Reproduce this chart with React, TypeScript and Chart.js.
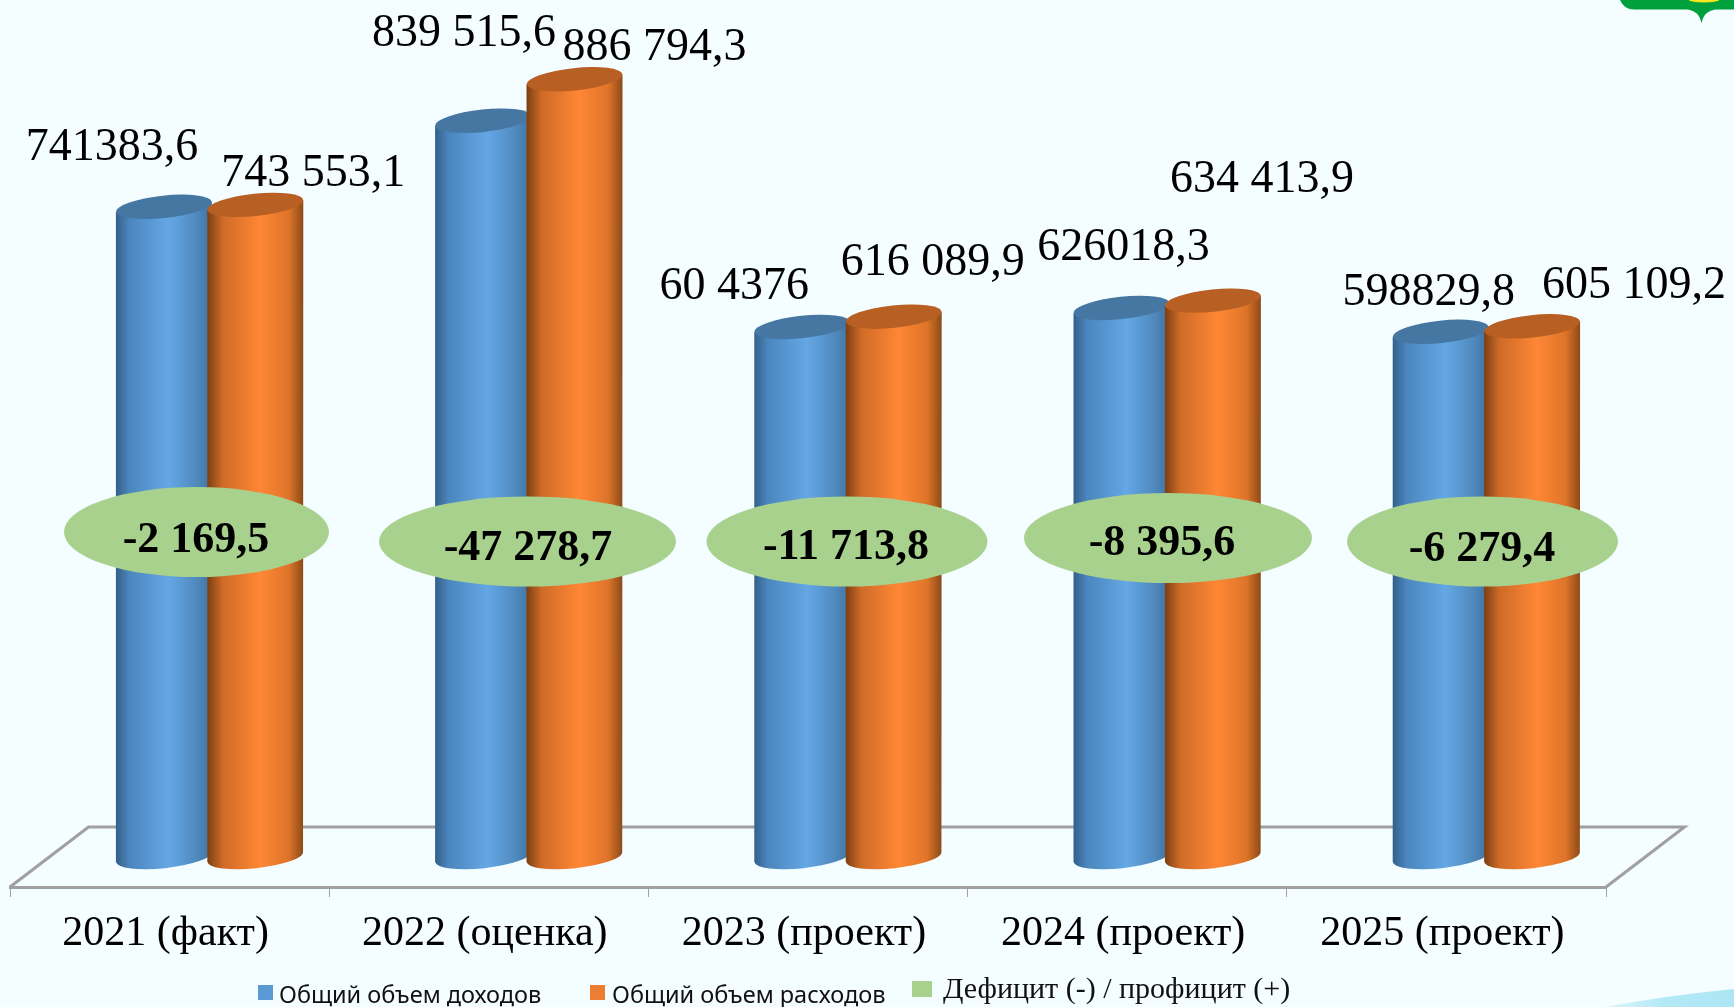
import React, { useEffect, useRef } from "react";
import { Chart, registerables } from "chart.js";

Chart.register(...registerables);

const categories = ["2021 (факт)", "2022 (оценка)", "2023 (проект)", "2024 (проект)", "2025 (проект)"];
const revenues = [741383.6, 839515.6, 604376, 626018.3, 598829.8];
const expenses = [743553.1, 886794.3, 616089.9, 634413.9, 605109.2];
const deficits = [-2169.5, -47278.7, -11713.8, -8395.6, -6279.4];
const revenueLabels = ["741383,6", "839 515,6", "60 4376", "626018,3", "598829,8"];
const expenseLabels = ["743 553,1", "886 794,3", "616 089,9", "634 413,9", "605 109,2"];
const deficitLabels = ["-2 169,5", "-47 278,7", "-11 713,8", "-8 395,6", "-6 279,4"];
const seriesNames = ["Общий объем доходов", "Общий объем расходов", "Дефицит (-) / профицит (+)"];

// Hand-placed annotations of the original slide, relative to the top of each bar
const revenueLabelOffsets = [[-52, -59], [-19, -87], [-68, -40], [2, -60], [-12, -39]];
const expenseLabelOffsets = [[58, -31], [80, -31], [39, -54], [49, -121], [102, -40]];
// Deficit ellipses: centre x, centre y, x radius, y radius
const badges = [
  [196.5, 532, 132.5, 45],
  [527.5, 541.5, 148.5, 45],
  [847, 541.5, 140.5, 45],
  [1168, 538, 144, 45],
  [1482.5, 541.5, 135.5, 45],
];
const badgeTextX = [196, 528, 846, 1162, 1482];
const badgeTextY = [541, 549, 548, 544, 550];

const SERIF = '"Liberation Serif", serif';
const BG = "#F4FDFF";
const DEPTH_X = 40;
const DEPTH_Y = 30;
const TILT = (-6 * Math.PI) / 180;
const CAP_RY = 11.2;

const blueStops: [number, string][] = [
  [0, "#33608A"], [0.14, "#4B86BD"], [0.55, "#64A7E5"], [0.85, "#4F88BC"], [1, "#41719E"],
];
const orangeStops: [number, string][] = [
  [0, "#7C3F12"], [0.16, "#CF6B28"], [0.55, "#FF8735"], [0.85, "#DE7429"], [1, "#8C4A18"],
];

function cylinders(ctx: CanvasRenderingContext2D, meta: any, stops: [number, string][], capColor: string) {
  meta.data.forEach((el: any) => {
    const { x, y, base, width } = el.getProps(["x", "y", "base", "width"], true);
    const rx = width / 2;
    const xL = x - rx;
    const xR = x + rx;
    const tip = rx * Math.sin(-TILT);
    const grad = ctx.createLinearGradient(xL, 0, xR, 0);
    stops.forEach(([o, c]) => grad.addColorStop(o, c));
    ctx.beginPath();
    ctx.moveTo(xL, y + tip);
    ctx.lineTo(xL, base + tip);
    ctx.ellipse(x, base, rx, CAP_RY, TILT, Math.PI, 0, true);
    ctx.lineTo(xR, y - tip);
    ctx.closePath();
    ctx.fillStyle = grad;
    ctx.fill();
    ctx.beginPath();
    ctx.ellipse(x, y, rx, CAP_RY, TILT, 0, Math.PI * 2);
    ctx.fillStyle = capColor;
    ctx.fill();
  });
}

const slidePlugin = {
  id: "slide",
  beforeDraw(chart: any) {
    const { ctx, width, height } = chart;
    ctx.save();
    ctx.fillStyle = BG;
    ctx.fillRect(0, 0, width, height);
    // swoosh bottom right
    const sw = ctx.createLinearGradient(1610, 0, width, 0);
    sw.addColorStop(0, "#D8F4FB");
    sw.addColorStop(0.45, "#B4E9F6");
    sw.addColorStop(1, "#ACE6F5");
    ctx.beginPath();
    ctx.moveTo(1605, height);
    ctx.quadraticCurveTo(1670, 995, width, 989);
    ctx.lineTo(width, height);
    ctx.closePath();
    ctx.fillStyle = sw;
    ctx.fill();
    // emblem at top right
    ctx.beginPath();
    ctx.moveTo(1620, 0);
    ctx.quadraticCurveTo(1624, 9.5, 1634, 9.5);
    ctx.lineTo(1688, 9.5);
    ctx.quadraticCurveTo(1699, 11, 1701.5, 23);
    ctx.quadraticCurveTo(1704, 11, 1715, 9.5);
    ctx.lineTo(width, 9.5);
    ctx.lineTo(width, 0);
    ctx.closePath();
    ctx.fillStyle = "#00A03C";
    ctx.fill();
    ctx.beginPath();
    ctx.ellipse(1704, 0, 15, 2.4, 0, 0, Math.PI * 2);
    ctx.fillStyle = "#F5E61E";
    ctx.fill();
    ctx.restore();
  },
  beforeDatasetsDraw(chart: any) {
    const { ctx, chartArea: a } = chart;
    const yFront = a.bottom;
    const yBack = yFront - DEPTH_Y * 2;
    ctx.save();
    ctx.strokeStyle = "#A0A0A0";
    ctx.lineWidth = 3;
    ctx.lineJoin = "miter";
    ctx.beginPath();
    ctx.moveTo(a.left, yFront);
    ctx.lineTo(a.left + DEPTH_X * 2 - 1.5, yBack);
    ctx.lineTo(a.right + DEPTH_X * 2 - 1.5, yBack);
    ctx.lineTo(a.right, yFront);
    ctx.stroke();
    ctx.restore();
  },
  beforeDatasetDraw() {
    return false;
  },
  afterDatasetsDraw(chart: any) {
    const { ctx } = chart;
    const revMeta = chart.getDatasetMeta(0);
    const expMeta = chart.getDatasetMeta(1);
    ctx.save();
    ctx.translate(DEPTH_X, -DEPTH_Y);
    cylinders(ctx, revMeta, blueStops, "#4677A3");
    cylinders(ctx, expMeta, orangeStops, "#B86023");
    ctx.restore();

    ctx.save();
    ctx.fillStyle = "#000";
    ctx.textAlign = "center";
    ctx.textBaseline = "middle";
    ctx.font = `46px ${SERIF}`;
    const label = (meta: any, texts: string[], offs: number[][]) =>
      meta.data.forEach((el: any, i: number) => {
        ctx.fillText(texts[i], el.x + DEPTH_X + offs[i][0], el.y - DEPTH_Y + offs[i][1]);
      });
    label(revMeta, revenueLabels, revenueLabelOffsets);
    label(expMeta, expenseLabels, expenseLabelOffsets);

    badges.forEach(([cx, cy, rx, ry], i) => {
      ctx.beginPath();
      ctx.ellipse(cx, cy, rx, ry, 0, 0, Math.PI * 2);
      ctx.fillStyle = chart.data.datasets[2].backgroundColor;
      ctx.fill();
      ctx.fillStyle = "#000";
      ctx.font = `bold 44px ${SERIF}`;
      ctx.fillText(deficitLabels[i], badgeTextX[i], badgeTextY[i]);
    });

    // legend
    const ds = chart.data.datasets;
    ctx.textAlign = "left";
    ctx.fillStyle = ds[0].backgroundColor;
    ctx.fillRect(258, 985, 15, 15);
    ctx.fillStyle = ds[1].backgroundColor;
    ctx.fillRect(590, 985, 15, 15);
    ctx.fillStyle = ds[2].backgroundColor;
    ctx.fillRect(912, 981, 20, 16);
    ctx.fillStyle = "#111";
    ctx.font = '23.5px "Noto Sans", sans-serif';
    ctx.fillText(ds[0].label, 279, 996);
    ctx.fillText(ds[1].label, 612, 996);
    ctx.font = `30px ${SERIF}`;
    ctx.fillText(ds[2].label, 943, 990);
    ctx.restore();
  },
};

export default function App() {
  const ref = useRef<HTMLCanvasElement>(null);
  useEffect(() => {
    document.body.style.margin = "0";
    document.body.style.background = BG;
    const chart = new Chart(ref.current!, {
      type: "bar",
      data: {
        labels: categories,
        datasets: [
          { label: seriesNames[0], data: revenues, backgroundColor: "#5B9BD5", clip: false },
          { label: seriesNames[1], data: expenses, backgroundColor: "#ED7D31", clip: false },
          { type: "line", label: seriesNames[2], data: deficits, backgroundColor: "#A9D18E", showLine: false, pointRadius: 0, clip: false },
        ],
      } as any,
      options: {
        animation: false,
        responsive: false,
        events: [],
        layout: { padding: { left: 10, right: 128, top: 0, bottom: 0 } },
        datasets: { bar: { categoryPercentage: 0.5727, barPercentage: 1.05 } },
        plugins: { legend: { display: false }, tooltip: { enabled: false }, title: { display: false } },
        scales: {
          y: { display: false, min: 0, max: 1011400 },
          x: {
            afterFit: (s: any) => { s.height = 120; },
            border: { color: "#A0A0A0", width: 3 },
            grid: { drawOnChartArea: false, color: "#A0A0A0", lineWidth: 1, tickLength: 10 },
            ticks: { color: "#000", font: { family: SERIF, size: 42 }, padding: 12, labelOffset: -4, maxRotation: 0, autoSkip: false },
          },
        },
      } as any,
      plugins: [slidePlugin as any],
    });
    return () => chart.destroy();
  }, []);
  return <canvas ref={ref} width={1734} height={1007} style={{ display: "block", width: 1734, height: 1007 }} />;
}
